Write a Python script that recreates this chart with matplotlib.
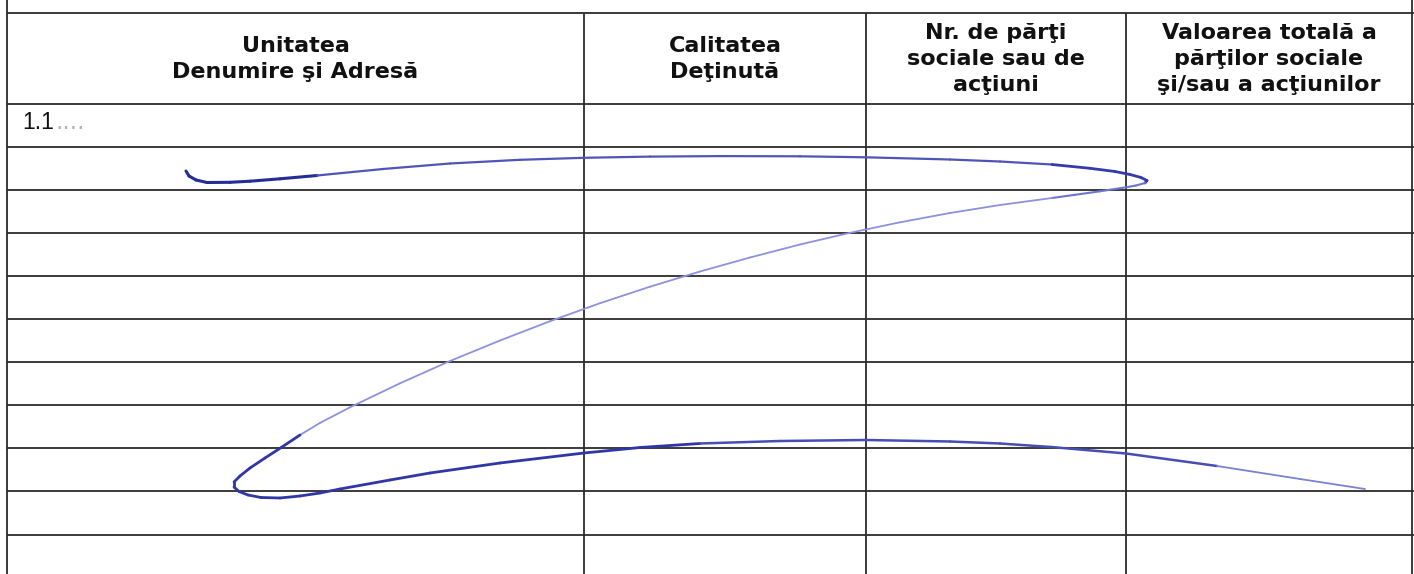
import matplotlib
matplotlib.use("Agg")
import matplotlib.pyplot as plt
from matplotlib.collections import LineCollection
import numpy as np

# ---- table structure (pixel coordinates of the scanned form) ----
row_lines_y = [13, 103.5, 147, 190, 233, 276, 319, 362, 405, 448, 491, 534.5]
col_lines_x = [7, 584, 866, 1126, 1412]

headers = [
    "Unitatea\nDenumire şi Adresă",
    "Calitatea\nDeţinută",
    "Nr. de părţi\nsociale sau de\nacţiuni",
    "Valoarea totală a\npărţilor sociale\nşi/sau a acţiunilor",
]
first_row_label = "1.1"
first_row_dots = "...."

# ---- hand-drawn "Z" strike-through scribble ----
scribble_x = [186, 189, 196, 207, 230, 250, 280, 317, 383, 450, 520, 584, 650, 720,
              800, 866, 950, 1000, 1052, 1090, 1115, 1130, 1141, 1147, 1145, 1136,
              1126, 1100, 1075, 1052, 1000, 950, 900, 850, 800, 750, 700, 650, 600,
              550, 500, 450, 400, 350, 320, 300, 282, 265, 250, 240, 234, 234, 239,
              248, 261, 280, 300, 320, 340, 390, 430, 500, 584, 640, 700, 780, 866,
              950, 1000, 1051, 1126, 1217, 1300, 1365]
scribble_y = [171, 176, 180, 182.5, 182.3, 181.2, 178.8, 175.5, 169, 163.5, 159.8,
              157.8, 156.6, 156.1, 156.3, 157.3, 159.5, 161.5, 164.5, 168.3, 171.5,
              174.5, 177.5, 180.5, 183, 185.5, 187.3, 191.3, 194.8, 198, 205, 213,
              222.3, 232.8, 244.5, 257.5, 271.5, 286.7, 303.2, 321.2, 340.5, 361,
              383.3, 407.3, 422.9, 435, 447, 458, 468, 476, 482, 487, 491.5, 495,
              497.5, 498, 496, 493, 489, 480, 473, 463, 453, 447.5, 443.5, 441, 440,
              441.5, 443.5, 447, 453.5, 466, 479, 489]

# pen pressure styling: (start index, end index, colour, width)
ink_styles = [
    (0, 7, "#262c96", 2.2),
    (7, 18, "#4f55b8", 1.6),
    (18, 24, "#353bab", 2.0),
    (24, 29, "#6f75cc", 1.5),
    (29, 45, "#8c91e0", 1.3),
    (45, 64, "#2f36a6", 2.0),
    (64, 71, "#474db2", 1.8),
    (71, 73, "#7c82d2", 1.3),
]

W, H = 1414, 574
fig = plt.figure(figsize=(W / 100, H / 100), dpi=100)
ax = fig.add_axes([0, 0, 1, 1])
ax.set_xlim(0, W)
ax.set_ylim(H, 0)
ax.axis("off")
fig.patch.set_facecolor("white")

line_color = "#2b2b2b"
# horizontal rules
ax.hlines(row_lines_y, col_lines_x[0], W, colors=line_color, linewidth=1.3)
# outer verticals run full height, inner ones start at the top rule
ax.vlines([col_lines_x[0], col_lines_x[-1]], 0, H, colors=line_color, linewidth=1.3)
ax.vlines(col_lines_x[1:-1], row_lines_y[0], H, colors=line_color, linewidth=1.3)

# header texts
head_mid = (row_lines_y[0] + row_lines_y[1]) / 2 + 0.5
for i, txt in enumerate(headers):
    cx = (col_lines_x[i] + col_lines_x[i + 1]) / 2
    ax.text(cx, head_mid, txt, ha="center", va="center", multialignment="center",
            fontsize=16, fontweight="bold", family=["DejaVu Sans"],
            linespacing=1.38, color="#111111")

# first row label
ax.text(22, 129, first_row_label, ha="left", va="baseline", fontsize=16.5,
        family=["Liberation Sans"], color="#111111")
ax.text(55, 129, first_row_dots, ha="left", va="baseline", fontsize=17,
        family=["DejaVu Sans"], color="#b4b4b4")

# scribble
pts = np.column_stack([scribble_x, scribble_y])
segs, cols, lws = [], [], []
for s, e, c, lw in ink_styles:
    for k in range(s, e):
        segs.append([pts[k], pts[k + 1]])
        cols.append(c)
        lws.append(lw)
lc = LineCollection(segs, colors=cols, linewidths=lws, capstyle="round", joinstyle="round")
ax.add_collection(lc)

fig.savefig("out.png", dpi=100, facecolor="white")
